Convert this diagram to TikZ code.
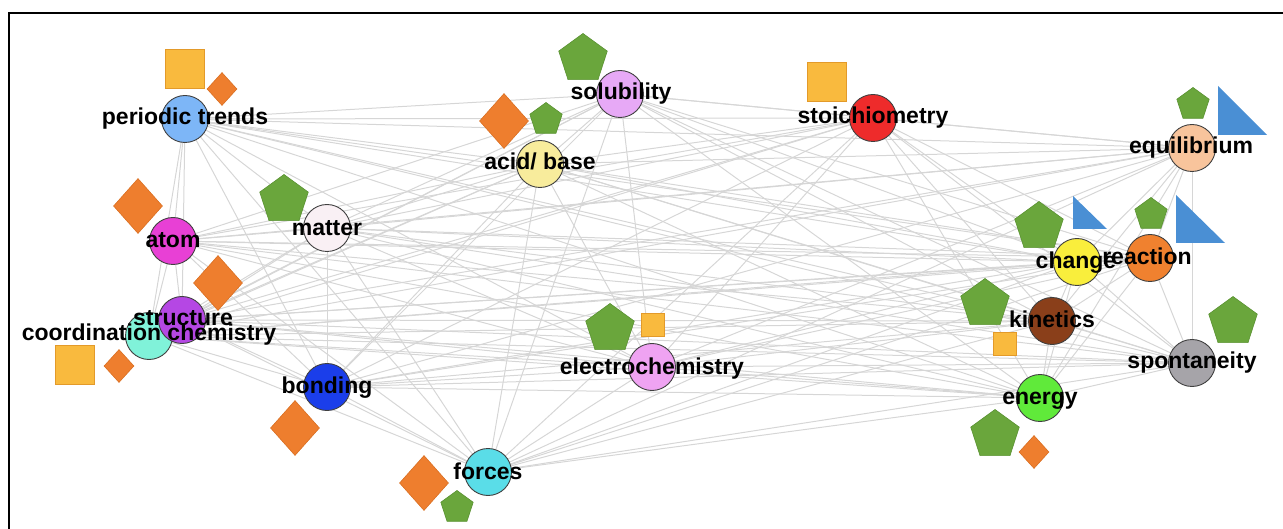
\documentclass[tikz,border=0pt]{standalone}
\usepackage{fontspec}
\setmainfont{Liberation Sans}
\usetikzlibrary{shapes.geometric}
\pgfdeclarelayer{bg}
\pgfsetlayers{bg,main}
\definecolor{cPT}{HTML}{7DB6F7}
\definecolor{cAT}{HTML}{E840D5}
\definecolor{cMA}{HTML}{F9F0F4}
\definecolor{cST}{HTML}{B547E4}
\definecolor{cCC}{HTML}{80F2D9}
\definecolor{cBO}{HTML}{1B3EEA}
\definecolor{cFO}{HTML}{5ADDE8}
\definecolor{cAB}{HTML}{F8EC9C}
\definecolor{cSO}{HTML}{E7A9F6}
\definecolor{cEL}{HTML}{EFA3F2}
\definecolor{cSC}{HTML}{EE2B2B}
\definecolor{cEQ}{HTML}{F8C49C}
\definecolor{cCH}{HTML}{F9EE3C}
\definecolor{cRE}{HTML}{F0812F}
\definecolor{cKI}{HTML}{8A3F1A}
\definecolor{cSP}{HTML}{A6A4A9}
\definecolor{cEN}{HTML}{60EA3A}
\definecolor{pentG}{HTML}{6AA63C}
\definecolor{pentB}{HTML}{5A9232}
\definecolor{diaO}{HTML}{EE7E2E}
\definecolor{diaB}{HTML}{D96F22}
\definecolor{sqY}{HTML}{F9BA3E}
\definecolor{sqB}{HTML}{E39A2A}
\definecolor{triB}{HTML}{4A8FD4}
\definecolor{edgeC}{HTML}{D6D6D6}
\tikzset{
  concept/.style={circle, inner sep=0pt, minimum size=47pt, draw=black!75, line width=0.9pt},
  lbl/.style={inner sep=0pt, text height=16pt, text depth=0pt, font=\bfseries\fontsize{23}{23}\selectfont, text=black},
  bigpent/.style={regular polygon, regular polygon sides=5, inner sep=0pt, minimum size=51pt, fill=pentG, draw=pentB, line width=0.6pt},
  smallpent/.style={bigpent, minimum size=34pt},
  bigdia/.style={diamond, inner sep=0pt, minimum width=49pt, minimum height=55pt, fill=diaO, draw=diaB, line width=0.6pt},
  smalldia/.style={bigdia, minimum width=30pt, minimum height=33pt},
  bigsq/.style={rectangle, inner sep=0pt, minimum size=39pt, fill=sqY, draw=sqB, line width=0.6pt},
  smallsq/.style={bigsq, minimum size=23pt},
  tri/.style={fill=triB},
  link/.style={draw=edgeC, line width=1pt},
  frame/.style={line width=2pt, draw=black}
}
\begin{document}
\begin{tikzpicture}[x=1pt, y=-1pt]
\useasboundingbox (0,0) rectangle (1283,529);
\draw[frame] (9,529) -- (9,13) -- (1283,13);

% concept circles
\node[concept, fill=cPT] (pt) at (185,119) {};
\node[concept, fill=cAT] (at) at (173,241) {};
\node[concept, fill=cMA] (ma) at (327,228) {};
\node[concept, fill=cCC] (cc) at (149,336) {};
\node[concept, fill=cST] (st) at (182,320) {};
\node[concept, fill=cBO] (bo) at (327,387) {};
\node[concept, fill=cFO] (fo) at (488,472) {};
\node[concept, fill=cAB] (ab) at (540,164) {};
\node[concept, fill=cSO] (so) at (620,94) {};
\node[concept, fill=cEL] (el) at (652,367) {};
\node[concept, fill=cSC] (sc) at (873,118) {};
\node[concept, fill=cEQ] (eq) at (1192,148) {};
\node[concept, fill=cCH] (ch) at (1077,262) {};
\node[concept, fill=cRE] (re) at (1150,258) {};
\node[concept, fill=cKI] (ki) at (1052,321) {};
\node[concept, fill=cSP] (sp) at (1192,363) {};
\node[concept, fill=cEN] (en) at (1040,398) {};

% edges on background layer
\begin{pgfonlayer}{bg}
\foreach \a [count=\i] in {pt,at,ma,cc,st,bo,fo,ab,so,el,sc,eq,ch,re,ki,sp,en}{
  \foreach \b [count=\j] in {pt,at,ma,cc,st,bo,fo,ab,so,el,sc,eq,ch,re,ki,sp,en}{
    \ifnum\j>\i\relax
      \draw[link] (\a.center) -- (\b.center);
    \fi
  }
}
\end{pgfonlayer}

% decorations
\node[bigsq] (sqpt) at (185,69) {};
\node[smalldia] (dpt) at (222,89) {};
\node[bigdia] (dat) at (138,206) {};
\node[bigpent] (pma) at (284,200) {};
\node[bigdia] (dst) at (218,283) {};
\node[bigsq] (sqcc) at (75,365) {};
\node[smalldia] (dcc) at (119,366) {};
\node[bigdia] (dbo) at (295,428) {};
\node[bigdia] (dfo) at (424,483) {};
\node[smallpent] (pfo) at (457,507.5) {};
\node[bigpent] (pso) at (583,59) {};
\node[bigdia] (dab) at (504,121) {};
\node[smallpent] (pab) at (546,119.5) {};
\node[bigpent] (pel) at (610,329) {};
\node[smallsq] (sqel) at (653,325) {};
\node[bigsq] (sqsc) at (827,82) {};
\node[smallpent] (peq) at (1193,104.5) {};
\fill[tri] (1218,86) -- (1218,135) -- (1267,135) -- cycle;
\node[bigpent] (pch) at (1039,227) {};
\fill[tri] (1073,196) -- (1073,229) -- (1107,229) -- cycle;
\node[smallpent] (pre) at (1151,214.5) {};
\fill[tri] (1176,195) -- (1176,243) -- (1225,243) -- cycle;
\node[bigpent] (pki) at (985,304) {};
\node[smallsq] (sqki) at (1005,344) {};
\node[bigpent] (psp) at (1233,322) {};
\node[bigpent] (pen) at (995,435) {};
\node[smalldia] (den) at (1034,452) {};

% labels
\node[lbl] (lpt) at (185,117) {periodic trends};
\node[lbl] (lat) at (173,240) {atom};
\node[lbl] (lma) at (327,228) {matter};
\node[lbl] (lst) at (183,318) {structure};
\node[lbl] (lcc) at (149,333) {coordination chemistry};
\node[lbl] (lbo) at (327,385) {bonding};
\node[lbl] (lfo) at (488,471) {forces};
\node[lbl] (lab) at (540,162) {acid/ base};
\node[lbl] (lso) at (621,92) {solubility};
\node[lbl] (lel) at (652,366) {electrochemistry};
\node[lbl] (lsc) at (873,116) {stoichiometry};
\node[lbl] (leq) at (1191,146) {equilibrium};
\node[lbl] (lre) at (1147,257) {reaction};
\node[lbl] (lch) at (1076,261) {change};
\node[lbl] (lki) at (1052,320) {kinetics};
\node[lbl] (lsp) at (1192,361) {spontaneity};
\node[lbl] (len) at (1040,396) {energy};
\end{tikzpicture}
\end{document}
